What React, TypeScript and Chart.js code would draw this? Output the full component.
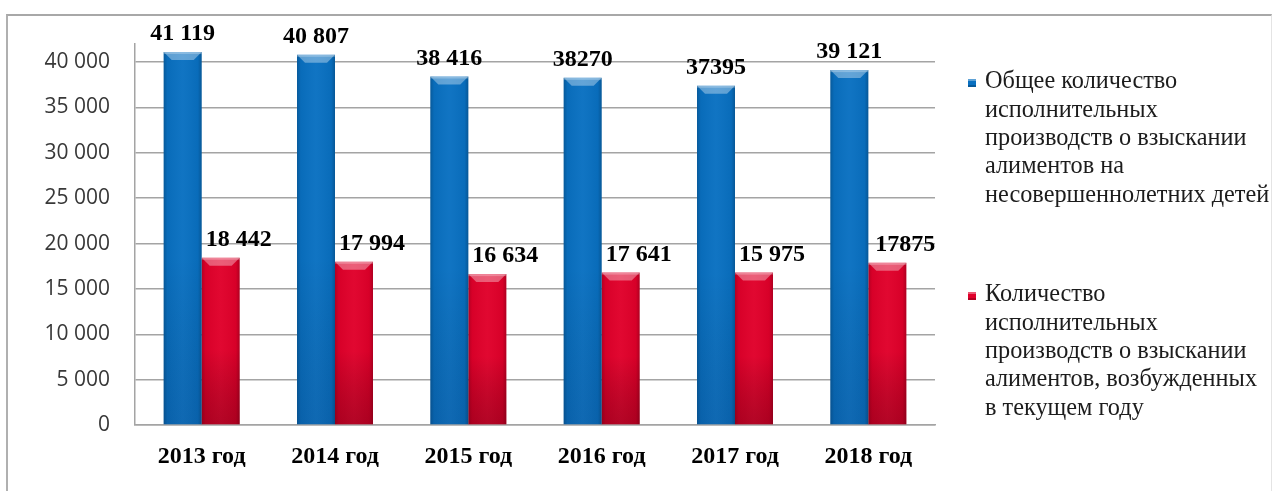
import React, { useEffect, useRef } from 'react';
import { Chart, registerables } from 'chart.js';

Chart.register(...registerables);

// ---- data ----
const categories = ['2013 год', '2014 год', '2015 год', '2016 год', '2017 год', '2018 год'];
const totalValues = [41119, 40807, 38416, 38270, 37395, 39121];
const totalLabels = ['41 119', '40 807', '38 416', '38270', '37395', '39 121'];
const newValues = [18442, 17994, 16634, 16800, 16800, 17875];
const newLabels = ['18 442', '17 994', '16 634', '17 641', '15 975', '17875'];
const totalLegend = [
  'Общее количество',
  'исполнительных',
  'производств о взыскании',
  'алиментов на',
  'несовершеннолетних детей',
];
const newLegend = [
  'Количество',
  'исполнительных',
  'производств о взыскании',
  'алиментов, возбужденных',
  'в текущем году',
];
const yTicks = [0, 5000, 10000, 15000, 20000, 25000, 30000, 35000, 40000];

const GRID = '#a4a4a4';
const SERIF = '"Liberation Serif", "Times New Roman", serif';

const fmt = (v: number) => String(v).replace(/\B(?=(\d{3})+(?!\d))/g, ' ');

const barStylePlugin = {
  id: 'barStyle',
  afterDatasetsDraw(chart: any) {
    const ctx = chart.ctx as CanvasRenderingContext2D;
    const area = chart.chartArea;
    ctx.save();
    ctx.beginPath();
    ctx.rect(area.left, 0, area.right - area.left, area.bottom);
    ctx.clip();
    chart.data.datasets.forEach((ds: any, di: number) => {
      const meta = chart.getDatasetMeta(di);
      meta.data.forEach((el: any) => {
        const { x, y, base, width } = el.getProps(['x', 'y', 'base', 'width'], true);
        const l = x - width / 2;
        const r = x + width / 2;
        const h = base - y;
        const gh = ctx.createLinearGradient(l, 0, r, 0);
        gh.addColorStop(0, 'rgba(0,0,0,0.2)');
        gh.addColorStop(0.1, 'rgba(0,0,0,0.04)');
        gh.addColorStop(0.5, 'rgba(255,255,255,0.03)');
        gh.addColorStop(0.9, 'rgba(0,0,0,0.04)');
        gh.addColorStop(1, 'rgba(0,0,0,0.22)');
        ctx.fillStyle = gh;
        ctx.fillRect(l, y, width, h);
        const gv = ctx.createLinearGradient(0, y, 0, base);
        gv.addColorStop(0, 'rgba(0,0,0,0)');
        gv.addColorStop(0.55, 'rgba(0,0,0,0)');
        gv.addColorStop(1, ds.bottomShade);
        ctx.fillStyle = gv;
        ctx.fillRect(l, y, width, h);
        const b = 8;
        ctx.beginPath();
        ctx.moveTo(l, y);
        ctx.lineTo(r, y);
        ctx.lineTo(r - b, y + b);
        ctx.lineTo(l + b, y + b);
        ctx.closePath();
        ctx.fillStyle = 'rgba(255,255,255,0.35)';
        ctx.fill();
        ctx.fillStyle = 'rgba(255,255,255,0.25)';
        ctx.fillRect(l, y, width, 2);
      });
    });
    ctx.restore();

    // value labels
    ctx.save();
    ctx.font = `bold 24px ${SERIF}`;
    ctx.fillStyle = '#000';
    ctx.textAlign = 'center';
    ctx.textBaseline = 'alphabetic';
    chart.data.datasets.forEach((ds: any, di: number) => {
      const meta = chart.getDatasetMeta(di);
      meta.data.forEach((el: any, i: number) => {
        const { x, y } = el.getProps(['x', 'y'], true);
        ctx.fillText(ds.valueLabels[i], x + ds.labelShift, y - ds.labelGap);
      });
    });
    ctx.restore();
  },
};

const legendPlugin = {
  id: 'sideLegend',
  afterDraw(chart: any, _args: any, opts: any) {
    const ctx = chart.ctx as CanvasRenderingContext2D;
    ctx.save();
    ctx.font = `${opts.size}px ${SERIF}`;
    ctx.textBaseline = 'middle';
    ctx.textAlign = 'left';
    chart.data.datasets.forEach((ds: any, i: number) => {
      const top = opts.itemTops[i];
      const s = opts.markerSize;
      const mx = opts.markerX;
      const my = top - s / 2 + 1;
      ctx.fillStyle = ds.backgroundColor;
      ctx.fillRect(mx, my, s, s);
      ctx.fillStyle = 'rgba(255,255,255,0.35)';
      ctx.fillRect(mx, my, s, 2);
      ctx.fillStyle = 'rgba(0,0,0,0.2)';
      ctx.fillRect(mx, my + s - 2, s, 2);
      ctx.fillStyle = '#1c1c1c';
      ds.legendLines.forEach((line: string, j: number) => {
        ctx.fillText(line, opts.textX, top + j * opts.lineHeight);
      });
    });
    ctx.restore();
  },
};

export default function App() {
  const ref = useRef<HTMLCanvasElement>(null);

  useEffect(() => {
    const canvas = ref.current;
    if (!canvas) return;
    const chart = new Chart(canvas, {
      type: 'bar',
      data: {
        labels: categories,
        datasets: [
          {
            label: totalLegend.join(' '),
            data: totalValues,
            backgroundColor: '#0970C1',
            bottomShade: 'rgba(10,20,60,0.12)',
            valueLabels: totalLabels,
            labelShift: 0,
            labelGap: 12,
            legendLines: totalLegend,
          } as any,
          {
            label: newLegend.join(' '),
            data: newValues,
            backgroundColor: '#E0002A',
            bottomShade: 'rgba(60,0,10,0.28)',
            valueLabels: newLabels,
            labelShift: 18,
            labelGap: 12,
            legendLines: newLegend,
          } as any,
        ],
      },
      options: {
        responsive: false,
        animation: false,
        devicePixelRatio: 1,
        layout: { padding: { top: 44, right: 339, bottom: 0, left: 0 } },
        datasets: { bar: { categoryPercentage: 0.57, barPercentage: 1 } },
        plugins: {
          legend: { display: false },
          tooltip: { enabled: false },
          sideLegend: {
            size: 24.3,
            markerX: 968,
            markerSize: 8,
            textX: 985,
            itemTops: [82, 295],
            lineHeight: 28.3,
          },
        } as any,
        scales: {
          x: {
            grid: { display: false, drawTicks: false },
            border: { display: true, color: GRID, width: 1.5 },
            ticks: {
              font: { family: SERIF, size: 24, weight: 'bold' },
              color: '#000',
              padding: 17,
            },
            afterFit: (s: any) => {
              s.height = 66;
            },
          },
          y: {
            min: 0,
            max: 42000,
            afterBuildTicks: (s: any) => {
              s.ticks = yTicks.map((v) => ({ value: v }));
            },
            afterFit: (s: any) => {
              s.width = 135;
            },
            grid: { color: GRID, lineWidth: 1.5, drawTicks: false },
            border: { display: true, color: GRID, width: 1.5 },
            ticks: {
              font: { family: '"Open Sans", sans-serif', size: 21 },
              color: '#383838',
              padding: 25,
              callback: (v: any) => fmt(Number(v)),
            },
          },
        },
      },
      plugins: [barStylePlugin, legendPlugin],
    });
    return () => chart.destroy();
  }, []);

  return (
    <div
      style={{
        position: 'absolute',
        left: 0,
        top: 0,
        width: 1274,
        height: 491,
        background: '#fff',
        overflow: 'hidden',
      }}
    >
      <div
        style={{
          position: 'absolute',
          left: 6,
          top: 14,
          width: 1274 - 6 - 2,
          height: 600,
          borderLeft: '2px solid #b0b0b0',
          borderTop: '2px solid #a8a8a8',
          borderRight: '1px solid #e4e4e4',
          boxSizing: 'border-box',
        }}
      />
      <canvas
        ref={ref}
        width={1274}
        height={491}
        style={{ position: 'absolute', left: 0, top: 0, display: 'block' }}
      />
    </div>
  );
}
